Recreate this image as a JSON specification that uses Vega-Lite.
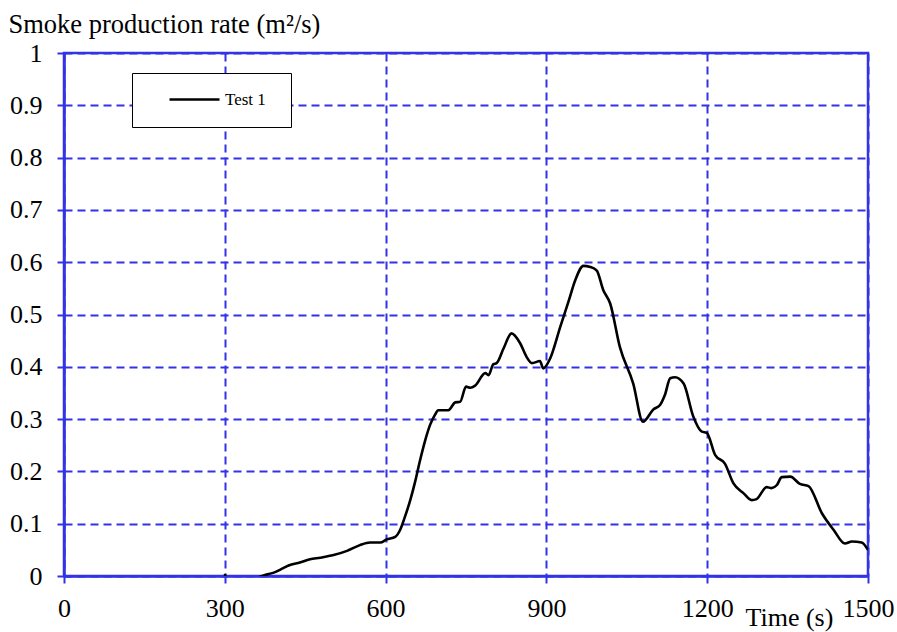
{
  "$schema": "https://vega.github.io/schema/vega-lite/v6.json",
  "autosize": {"type": "none"},
  "width": 804,
  "height": 523,
  "padding": {"left": 64, "top": 53, "right": 29, "bottom": 56},
  "background": "white",
  "config": {
    "font": "Times New Roman",
    "axis": {"labelFont": "Times New Roman", "titleFont": "Times New Roman"},
    "legend": {"labelFont": "Times New Roman"},
    "view": {"stroke": "#3333e6", "strokeWidth": 2.5}
  },
  "data": {
    "values": [
      {"t": 300, "v": 0.004, "s": "Test 1"},
      {"t": 306, "v": -0.01, "s": "Test 1"},
      {"t": 340, "v": -0.01, "s": "Test 1"},
      {"t": 364, "v": -0.002, "s": "Test 1"},
      {"t": 375, "v": 0.002, "s": "Test 1"},
      {"t": 390, "v": 0.006, "s": "Test 1"},
      {"t": 409, "v": 0.015, "s": "Test 1"},
      {"t": 419, "v": 0.020, "s": "Test 1"},
      {"t": 440, "v": 0.026, "s": "Test 1"},
      {"t": 459, "v": 0.032, "s": "Test 1"},
      {"t": 478, "v": 0.035, "s": "Test 1"},
      {"t": 503, "v": 0.040, "s": "Test 1"},
      {"t": 528, "v": 0.048, "s": "Test 1"},
      {"t": 552, "v": 0.059, "s": "Test 1"},
      {"t": 571, "v": 0.064, "s": "Test 1"},
      {"t": 590, "v": 0.064, "s": "Test 1"},
      {"t": 602, "v": 0.070, "s": "Test 1"},
      {"t": 618, "v": 0.075, "s": "Test 1"},
      {"t": 627, "v": 0.088, "s": "Test 1"},
      {"t": 636, "v": 0.113, "s": "Test 1"},
      {"t": 646, "v": 0.145, "s": "Test 1"},
      {"t": 655, "v": 0.180, "s": "Test 1"},
      {"t": 664, "v": 0.220, "s": "Test 1"},
      {"t": 674, "v": 0.260, "s": "Test 1"},
      {"t": 683, "v": 0.289, "s": "Test 1"},
      {"t": 692, "v": 0.308, "s": "Test 1"},
      {"t": 698, "v": 0.317, "s": "Test 1"},
      {"t": 717, "v": 0.317, "s": "Test 1"},
      {"t": 730, "v": 0.332, "s": "Test 1"},
      {"t": 739, "v": 0.333, "s": "Test 1"},
      {"t": 750, "v": 0.362, "s": "Test 1"},
      {"t": 758, "v": 0.360, "s": "Test 1"},
      {"t": 767, "v": 0.364, "s": "Test 1"},
      {"t": 786, "v": 0.388, "s": "Test 1"},
      {"t": 792, "v": 0.384, "s": "Test 1"},
      {"t": 801, "v": 0.405, "s": "Test 1"},
      {"t": 807, "v": 0.407, "s": "Test 1"},
      {"t": 820, "v": 0.435, "s": "Test 1"},
      {"t": 835, "v": 0.464, "s": "Test 1"},
      {"t": 851, "v": 0.445, "s": "Test 1"},
      {"t": 863, "v": 0.419, "s": "Test 1"},
      {"t": 873, "v": 0.407, "s": "Test 1"},
      {"t": 888, "v": 0.411, "s": "Test 1"},
      {"t": 894, "v": 0.397, "s": "Test 1"},
      {"t": 907, "v": 0.416, "s": "Test 1"},
      {"t": 926, "v": 0.477, "s": "Test 1"},
      {"t": 941, "v": 0.524, "s": "Test 1"},
      {"t": 954, "v": 0.566, "s": "Test 1"},
      {"t": 969, "v": 0.593, "s": "Test 1"},
      {"t": 982, "v": 0.591, "s": "Test 1"},
      {"t": 994, "v": 0.584, "s": "Test 1"},
      {"t": 1006, "v": 0.547, "s": "Test 1"},
      {"t": 1019, "v": 0.521, "s": "Test 1"},
      {"t": 1037, "v": 0.438, "s": "Test 1"},
      {"t": 1062, "v": 0.368, "s": "Test 1"},
      {"t": 1080, "v": 0.295, "s": "Test 1"},
      {"t": 1100, "v": 0.319, "s": "Test 1"},
      {"t": 1112, "v": 0.327, "s": "Test 1"},
      {"t": 1121, "v": 0.346, "s": "Test 1"},
      {"t": 1131, "v": 0.378, "s": "Test 1"},
      {"t": 1140, "v": 0.380, "s": "Test 1"},
      {"t": 1156, "v": 0.368, "s": "Test 1"},
      {"t": 1174, "v": 0.305, "s": "Test 1"},
      {"t": 1190, "v": 0.276, "s": "Test 1"},
      {"t": 1199, "v": 0.274, "s": "Test 1"},
      {"t": 1215, "v": 0.231, "s": "Test 1"},
      {"t": 1233, "v": 0.215, "s": "Test 1"},
      {"t": 1249, "v": 0.177, "s": "Test 1"},
      {"t": 1268, "v": 0.158, "s": "Test 1"},
      {"t": 1283, "v": 0.145, "s": "Test 1"},
      {"t": 1292, "v": 0.147, "s": "Test 1"},
      {"t": 1311, "v": 0.170, "s": "Test 1"},
      {"t": 1320, "v": 0.168, "s": "Test 1"},
      {"t": 1330, "v": 0.174, "s": "Test 1"},
      {"t": 1339, "v": 0.189, "s": "Test 1"},
      {"t": 1355, "v": 0.190, "s": "Test 1"},
      {"t": 1373, "v": 0.176, "s": "Test 1"},
      {"t": 1389, "v": 0.172, "s": "Test 1"},
      {"t": 1414, "v": 0.120, "s": "Test 1"},
      {"t": 1436, "v": 0.088, "s": "Test 1"},
      {"t": 1457, "v": 0.062, "s": "Test 1"},
      {"t": 1470, "v": 0.066, "s": "Test 1"},
      {"t": 1488, "v": 0.064, "s": "Test 1"},
      {"t": 1500, "v": 0.050, "s": "Test 1"}
    ]
  },
  "mark": {"type": "line", "strokeWidth": 2.6, "clip": true, "interpolate": "monotone"},
  "encoding": {
    "x": {
      "field": "t", "type": "quantitative",
      "scale": {"domain": [0, 1500], "nice": false},
      "axis": {
        "values": [0, 300, 600, 900, 1200, 1500],
        "format": "d",
        "title": "Time (s)",
        "titleFont": "Times New Roman", "titleFontSize": 26, "titleFontWeight": "normal", "titleColor": "black",
        "titleAnchor": "start", "titleAlign": "left", "titleBaseline": "alphabetic",
        "titleX": 681, "titleY": 49,
        "labelFont": "Times New Roman", "labelFontSize": 26, "labelColor": "black",
        "labelBaseline": "alphabetic", "labelPadding": 33,
        "labelFlush": false, "labelOverlap": false,
        "domainColor": "#3333e6", "domainWidth": 2.5,
        "tickColor": "#3333e6", "tickWidth": 2, "tickSize": 7,
        "gridColor": "#3333e6", "gridDash": [8, 5], "gridWidth": 2, "gridOpacity": 1
      }
    },
    "y": {
      "field": "v", "type": "quantitative",
      "scale": {"domain": [0, 1], "nice": false},
      "axis": {
        "values": [0, 0.1, 0.2, 0.3, 0.4, 0.5, 0.6, 0.7, 0.8, 0.9, 1],
        "format": "~g",
        "title": "Smoke production rate (m²/s)",
        "titleFont": "Times New Roman", "titleFontSize": 26.5, "titleFontWeight": "normal", "titleColor": "black",
        "titleAngle": 0, "titleAnchor": "start", "titleAlign": "left", "titleBaseline": "alphabetic",
        "titleX": -56, "titleY": -21,
        "labelFont": "Times New Roman", "labelFontSize": 26, "labelColor": "black", "labelPadding": 15,
        "labelFlush": false, "labelOverlap": false,
        "domainColor": "#3333e6", "domainWidth": 2.5,
        "tickColor": "#3333e6", "tickWidth": 2, "tickSize": 7,
        "gridColor": "#3333e6", "gridDash": [8, 5], "gridWidth": 2, "gridOpacity": 1
      }
    },
    "color": {
      "field": "s", "type": "nominal",
      "scale": {"range": ["black"]},
      "legend": {
        "title": null,
        "orient": "none", "legendX": 68, "legendY": 20,
        "strokeColor": "black", "fillColor": "white",
        "padding": 0,
        "symbolType": "stroke", "symbolSize": 2500, "symbolStrokeWidth": 2.6,
        "symbolOffset": 36,
        "labelFont": "Times New Roman", "labelFontSize": 17, "labelColor": "black", "labelOffset": 4,
        "labelExpr": "[datum.label + '\u00a0\u00a0\u00a0\u2800', '']"
      }
    }
  }
}
